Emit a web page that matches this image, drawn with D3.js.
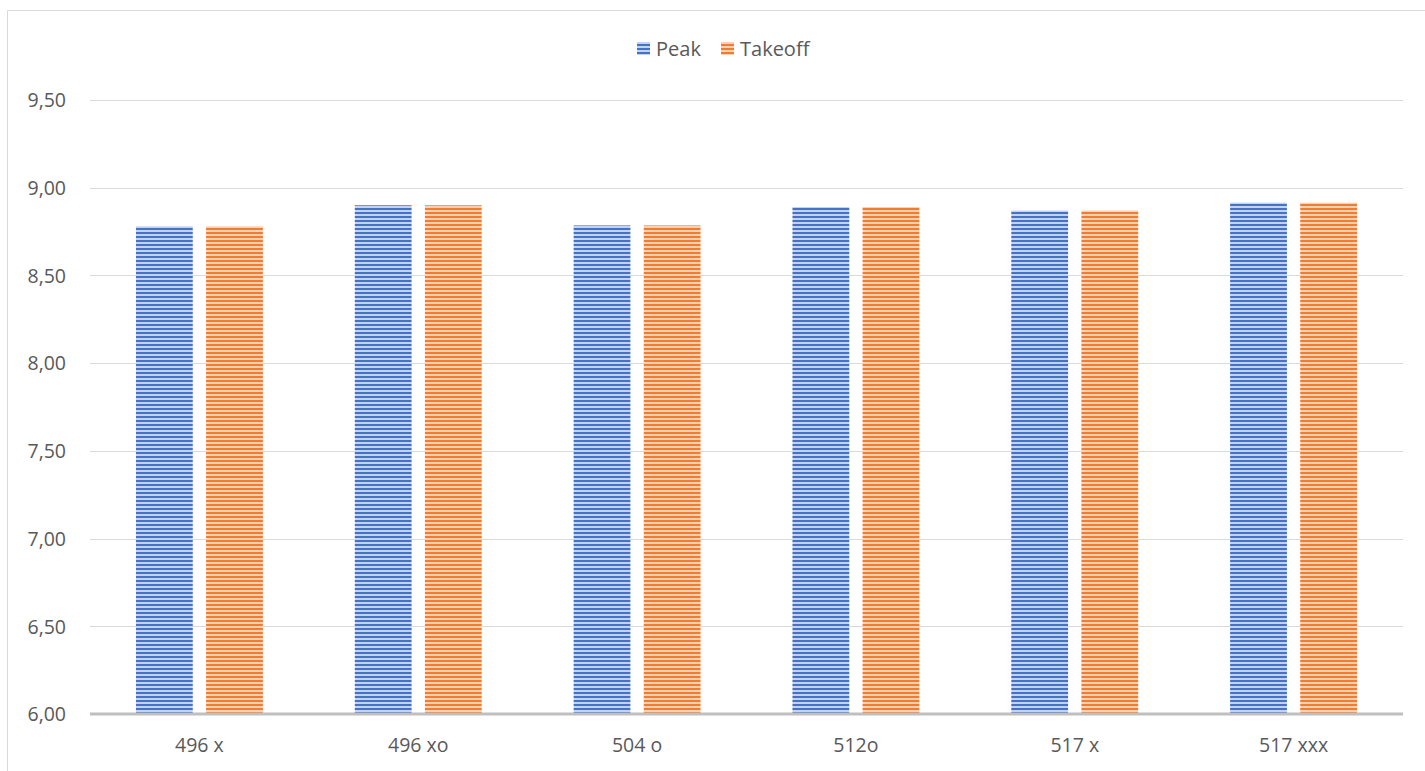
<!DOCTYPE html>
<html><head><meta charset="utf-8">
<script src="https://cdn.jsdelivr.net/npm/d3@7"></script>
<style>body{margin:0;background:#fff}svg{display:block}</style>
</head><body>
<svg id="c" width="1425" height="771"></svg>
<script>
const categories = ["496 x","496 xo","504 o","512o","517 x","517 xxx"];
const peak =    [8.78, 8.90, 8.785, 8.89, 8.87, 8.915];
const takeoff = [8.78, 8.90, 8.785, 8.89, 8.87, 8.915];
const seriesNames = ["Peak","Takeoff"];
const yTicks = [6.0, 6.5, 7.0, 7.5, 8.0, 8.5, 9.0, 9.5];

const svg = d3.select("#c");
const font = "'Open Sans', sans-serif";
const txt = "#595959";
const colors = [{dark:"#4472C4", light:"#c3d2ee"},{dark:"#ED7D31", light:"#f9d0b3"}];

const defs = svg.append("defs");
colors.forEach((c,i)=>{
  const p = defs.append("pattern").attr("id","pat"+i).attr("patternUnits","userSpaceOnUse")
    .attr("width",8).attr("height",4);
  p.append("rect").attr("width",8).attr("height",4).attr("fill",c.light);
  p.append("rect").attr("y",0).attr("width",8).attr("height",2).attr("fill",c.dark);
});

// chart frame
svg.append("path").attr("d","M7.5,771V10.5H1425").attr("fill","none").attr("stroke","#d9d9d9").attr("stroke-width",1);

const pL = 90, pR = 1403, pT = 100, pB = 714;
const y = d3.scaleLinear().domain([6,9.5]).range([pB, pT]);
const x0 = d3.scaleBand().domain(categories).range([pL,pR]).paddingInner(0.42).paddingOuter(0.21);
const x1 = d3.scaleBand().domain(seriesNames).range([0,x0.bandwidth()]).paddingInner(0.19);

// gridlines
svg.append("g").selectAll("line").data(yTicks.filter(v=>v>6)).join("line")
  .attr("x1",pL).attr("x2",pR).attr("y1",d=>Math.round(y(d))+0.5).attr("y2",d=>Math.round(y(d))+0.5)
  .attr("stroke","#d9d9d9").attr("stroke-width",1);

// y axis labels
const yAxis = d3.axisLeft(y).tickValues(yTicks).tickFormat(d=>d3.format(".2f")(d).replace(".",",")).tickSize(0).tickPadding(0);
const ga = svg.append("g").attr("transform","translate(66,0)").call(yAxis);
ga.select(".domain").remove();
ga.selectAll("text").attr("font-family",font).attr("font-size",19.5).attr("fill",txt).attr("dy","0.35em");

// bars
const data = categories.map((c,i)=>({cat:c, vals:[peak[i], takeoff[i]]}));
const g = svg.append("g");
data.forEach(d=>{
  d.vals.forEach((v,si)=>{
    g.append("rect")
      .attr("x", x0(d.cat)+x1(seriesNames[si]))
      .attr("y", y(v))
      .attr("width", x1.bandwidth())
      .attr("height", y(6)-y(v))
      .attr("fill","url(#pat"+si+")");
  });
});

// baseline
svg.append("line").attr("x1",pL).attr("x2",pR).attr("y1",y(6)).attr("y2",y(6))
  .attr("stroke","#bfbfbf").attr("stroke-width",3);

// x axis labels
const xAxis = d3.axisBottom(x0).tickSize(0).tickPadding(0);
const gx = svg.append("g").attr("transform","translate(0,745)").call(xAxis);
gx.select(".domain").remove();
gx.selectAll("text").attr("font-family",font).attr("font-size",19.5).attr("fill",txt).attr("dy","0.35em");

// legend
const legend = svg.append("g");
const lx = [637, 721];
seriesNames.forEach((n,i)=>{
  legend.append("rect").attr("x",lx[i]).attr("y",42).attr("width",13).attr("height",13).attr("fill","url(#pat"+i+")");
  legend.append("text").attr("x",lx[i]+19).attr("y",48.5).attr("dy","0.35em")
    .attr("font-family",font).attr("font-size",20).attr("fill",txt).text(n);
});
</script>
</body></html>
